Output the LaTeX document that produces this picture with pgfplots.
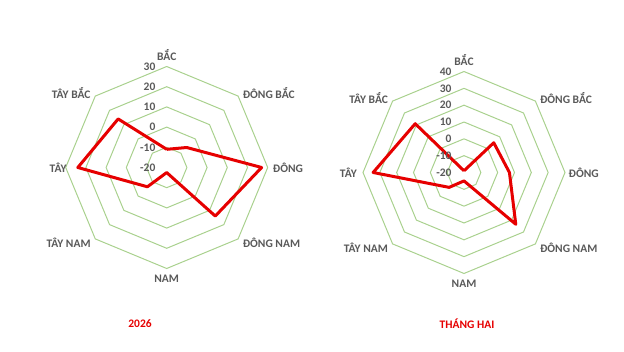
\documentclass[border=0pt]{standalone}
\usepackage{pgfplots}
\usepackage{pgfplotstable}
\pgfplotsset{compat=1.18}
\usepackage{fontspec}
\setmainfont{Carlito}
\definecolor{ring}{RGB}{169,209,142}
\definecolor{lbl}{RGB}{89,89,89}
\definecolor{ser}{RGB}{230,0,0}
\pgfplotstableread{
a v
90 -11
45 -6
0 27
-45 14
-90 -17.5
-135 -6.5
180 24
135 14
90 -11
}\leftdata
\pgfplotstableread{
a v
90 -19
45 5
0 7
-45 23.5
-90 -15
-135 -7.5
180 34
135 21
90 -19
}\rightdata
\pgfplotstableread{
a r
90 1
45 1
0 1
-45 1
-90 1
-135 1
180 1
135 1
90 1
}\angtab
\begin{document}
\begin{tikzpicture}[x=1pt,y=1pt]
\path[use as bounding box] (0,0) rectangle (624,351);
\tikzset{lab/.style={font=\bfseries\fontsize{11.5}{13}\selectfont,text=lbl,inner sep=1pt},
tick/.style={font=\bfseries\fontsize{11.5}{13}\selectfont,text=lbl,inner sep=0pt,anchor=east}}
% ---------- left chart
\begin{axis}[at={(166.7pt,183.5pt)},anchor=origin,hide axis,x=2.02pt,y=2.02pt,
  xmin=-50,xmax=50,ymin=-50,ymax=50,clip=false]
\pgfplotsinvokeforeach{-10,0,10,20,30}{
  \addplot[ring,line width=1pt,mark=none] table[x expr={(#1+20)*cos(\thisrow{a})},y expr={(#1+20)*sin(\thisrow{a})}] {\angtab};
}
\addplot[ser,line width=3pt,line join=round,mark=none] table[x expr={(\thisrow{v}+20)*cos(\thisrow{a})},y expr={(\thisrow{v}+20)*sin(\thisrow{a})}] {\leftdata};
\pgfplotsinvokeforeach{-20,-10,0,10,20,30}{
  \node[tick] at (axis cs:-5.5,#1+20) {#1};
}
\node[lab,anchor=south] at (axis cs:0,52.5) {BẮC};
\node[lab,anchor=west] at (axis cs:37.1,37.1) {ĐÔNG BẮC};
\node[lab,anchor=west] at (axis cs:52,0) {ĐÔNG};
\node[lab,anchor=west] at (axis cs:37.1,-37.1) {ĐÔNG NAM};
\node[lab,anchor=north] at (axis cs:0,-52.5) {NAM};
\node[lab,anchor=east] at (axis cs:-37.1,-37.1) {TÂY NAM};
\node[lab,anchor=east] at (axis cs:-49,0) {TÂY};
\node[lab,anchor=east] at (axis cs:-37.1,37.1) {TÂY BẮC};
\end{axis}
% ---------- right chart
\begin{axis}[at={(464pt,178.5pt)},anchor=origin,hide axis,x=1.683pt,y=1.683pt,
  xmin=-60,xmax=60,ymin=-60,ymax=60,clip=false]
\pgfplotsinvokeforeach{-10,0,10,20,30,40}{
  \addplot[ring,line width=1pt,mark=none] table[x expr={(#1+20)*cos(\thisrow{a})},y expr={(#1+20)*sin(\thisrow{a})}] {\angtab};
}
\addplot[ser,line width=3pt,line join=round,mark=none] table[x expr={(\thisrow{v}+20)*cos(\thisrow{a})},y expr={(\thisrow{v}+20)*sin(\thisrow{a})}] {\rightdata};
\pgfplotsinvokeforeach{-20,-10,0,10,20,30,40}{
  \node[tick] at (axis cs:-7.3,#1+20) {#1};
}
\node[lab,anchor=south] at (axis cs:0,63) {BẮC};
\node[lab,anchor=west] at (axis cs:44.5,44.5) {ĐÔNG BẮC};
\node[lab,anchor=west] at (axis cs:61.5,0) {ĐÔNG};
\node[lab,anchor=west] at (axis cs:44.5,-44.5) {ĐÔNG NAM};
\node[lab,anchor=north] at (axis cs:0,-63) {NAM};
\node[lab,anchor=east] at (axis cs:-44.5,-44.5) {TÂY NAM};
\node[lab,anchor=east] at (axis cs:-63,0) {TÂY};
\node[lab,anchor=east] at (axis cs:-44.5,44.5) {TÂY BẮC};
\end{axis}
\node[font=\bfseries\fontsize{11.5}{13}\selectfont,text=ser] at (140,27) {2026};
\node[font=\bfseries\fontsize{11.5}{13}\selectfont,text=ser] at (467,27) {THÁNG HAI};
\end{tikzpicture}
\end{document}
